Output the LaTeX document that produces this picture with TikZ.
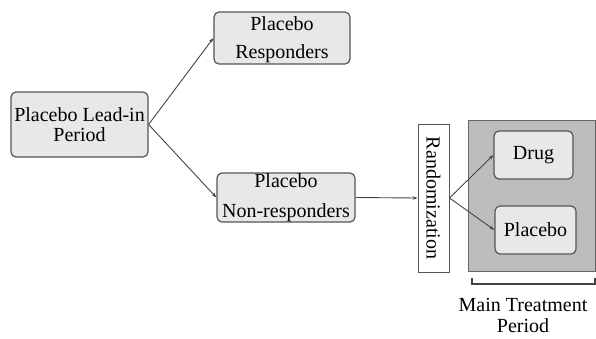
\documentclass[tikz,border=0pt]{standalone}
\usepackage{fontspec}
\setmainfont{Liberation Serif}
\usetikzlibrary{arrows.meta}
\definecolor{boxfill}{HTML}{E8E8E8}
\definecolor{boxline}{HTML}{555555}
\definecolor{bigfill}{HTML}{BDBDBD}
\definecolor{arrowcol}{HTML}{444444}
\tikzset{
  rbox/.style={draw=boxline, fill=boxfill, line width=1.2bp, rounded corners=5bp, inner sep=0pt, align=center},
  conn/.style={draw=arrowcol, line width=0.9bp, -{Stealth[length=5bp,width=3.5bp]}}
}
\newcommand{\fs}[1]{\rmfamily\fontsize{20bp}{#1}\selectfont}
\begin{document}
\begin{tikzpicture}[x=1bp,y=-1bp]
\useasboundingbox (0,0) rectangle (596,338);
% big gray box
\node[draw=boxline!90, fill=bigfill, line width=1bp, minimum width=127bp, minimum height=151bp, inner sep=0pt] (main) at (531.5,195.5) {};
\node[rbox, minimum width=137bp, minimum height=65bp, font=\fs{20.5bp}] (lead) at (79.5,124.5) {Placebo Lead-in\\Period};
\node[rbox, minimum width=136bp, minimum height=52bp, font=\fs{28bp}, text depth=0bp] (resp) at (282,38) {Placebo\\Responders};
\node[rbox, minimum width=138bp, minimum height=49bp, font=\fs{30bp}] (nonresp) at (286,197.5) {Placebo\\Non-responders};
\node[draw=boxline, fill=white, line width=1bp, minimum width=148bp, minimum height=31bp, inner sep=0pt, rotate=-90, font=\fs{22bp}] (rand) at (433.5,198) {Randomization};
\node[rbox, minimum width=79bp, minimum height=48bp, font=\fs{22bp}] (drug) at (533.5,155) {Drug};
\node[rbox, minimum width=81bp, minimum height=48bp, font=\fs{22bp}] (plac) at (535.5,230) {Placebo};
\node[align=center, inner sep=0pt, font=\fs{21bp}] (label) at (523,315) {Main Treatment\\Period};
\coordinate (bl) at (472,278);
\coordinate (br) at (595,278);
\draw[draw=arrowcol, line width=1.2bp] (bl) -- ++(0,6) -| (br);
\draw[conn] (lead.east) -- (resp.west);
\draw[conn] (lead.east) -- (nonresp.west);
\draw[conn] (nonresp.east) -- (rand.south);
\draw[conn] (rand.north) -- (drug.west);
\draw[conn] (rand.north) -- (plac.west);
\end{tikzpicture}
\end{document}
